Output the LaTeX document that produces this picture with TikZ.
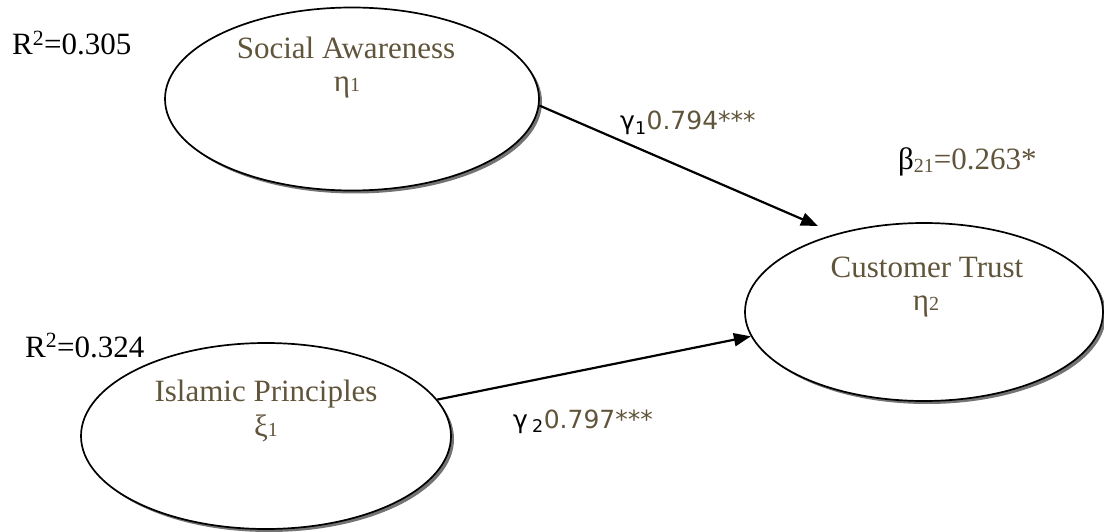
\documentclass[tikz,border=0pt]{standalone}
\usepackage{fontspec}
\setmainfont{Liberation Serif}
\newfontfamily\gsans{DejaVu Sans}
\usetikzlibrary{shapes.geometric,arrows.meta,shadows,positioning}
\definecolor{lblbrown}{RGB}{96,84,58}
\newcommand{\lowsub}[1]{{\fontsize{20}{20}\selectfont #1}}
\tikzset{
  latent/.style={ellipse, draw, line width=1.7pt, fill=white, inner sep=0pt,
    drop shadow={shadow xshift=3pt, shadow yshift=-3pt, fill=black!55, opacity=1}},
  lvname/.style={anchor=base, text=lblbrown, font=\fontsize{31}{34}\selectfont, inner sep=0pt},
  rsq/.style={anchor=base west, font=\fontsize{31}{34}\selectfont, inner sep=0pt},
  coef/.style={anchor=base west, text=lblbrown, font=\gsans\fontsize{25}{28}\selectfont, inner sep=0pt},
  path/.style={line width=2.2pt, -{Triangle[length=17pt,width=13pt]}}
}
\begin{document}
\begin{tikzpicture}[x=1pt,y=-1pt]
        \useasboundingbox (0,0) rectangle (1104,532);
        % latent variables
        \node[latent, minimum width=374pt, minimum height=183pt] (sa) at (352,99) {};
        \node[latent, minimum width=370pt, minimum height=186pt] (ip) at (266,436) {};
        \node[latent, minimum width=358pt, minimum height=178pt] (ct) at (924,312) {};
        \node[lvname] (satxt) at (346,59) {Social Awareness};
        \node[lvname] (saeta) at (347,92) {η\lowsub{1}};
        \node[lvname] (iptxt) at (266,401) {Islamic Principles};
        \node[lvname] (ipxi)  at (266,436) {ξ\lowsub{1}};
        \node[lvname] (cttxt) at (927,277) {Customer Trust};
        \node[lvname] (cteta) at (926,310) {η\lowsub{2}};
        % R squared
        \node[rsq] (r2sa) at (12,55) {R\textsuperscript{2}=0.305};
        \node[rsq] (r2ip) at (25,357) {R\textsuperscript{2}=0.324};
        % paths
        \coordinate (tip1) at (818,226);
        \draw[path] (sa.-2) -- (tip1);
        \draw[path] (ip.12) -- (ct.188);
        \node[coef] (g1) at (620,130) {\textcolor{black}{γ\textsubscript{1}}0.794***};
        \node[coef] (g2) at (513,428) {\textcolor{black}{γ\,\textsubscript{2}}0.797***};
        \node[rsq, text=lblbrown] (b21) at (898,170) {\textcolor{black}{β}\raisebox{-3pt}{\lowsub{21}}=0.263*};
\end{tikzpicture}
\end{document}
